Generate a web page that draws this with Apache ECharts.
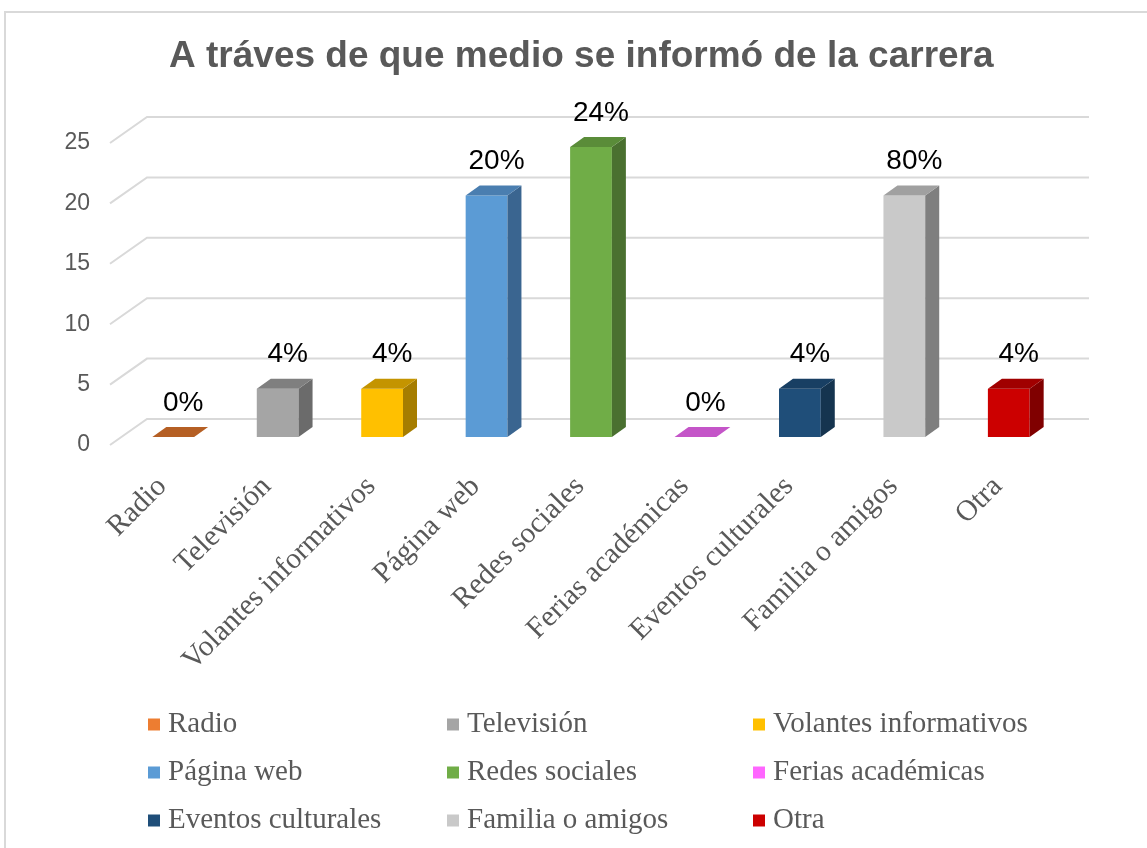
<!DOCTYPE html>
<html>
<head>
<meta charset="utf-8">
<script src="https://cdn.jsdelivr.net/npm/echarts@6/dist/echarts.min.js"></script>
<style>
    html, body { margin: 0; padding: 0; background: #fff; }
    #chart { width: 1147px; height: 848px; }
</style>
</head>
<body>
<div id="chart"></div>
<script>
    // datos
    const categorias = ['Radio', 'Televisión', 'Volantes informativos', 'Página web', 'Redes sociales',
        'Ferias académicas', 'Eventos culturales', 'Familia o amigos', 'Otra']
    const valores = [0, 4, 4, 20, 24, 0, 4, 20, 4]
    const etiquetas = ['0%', '4%', '4%', '20%', '24%', '0%', '4%', '80%', '4%']
    const ejeY = [0, 5, 10, 15, 20, 25]

    // colores: frente, cara superior, lateral
    const colores = [
        ['#ED7D31', '#B55F24', '#9a4f1d'],
        ['#A5A5A5', '#7F7F7F', '#6B6B6B'],
        ['#FFC000', '#C49400', '#a67d00'],
        ['#5B9BD5', '#4A7EB0', '#3A6590'],
        ['#70AD47', '#5A8C39', '#4A7030'],
        ['#FF66FF', '#C455C8', '#a040a8'],
        ['#1F4E79', '#183F63', '#15344F'],
        ['#C9C9C9', '#A0A0A0', '#7F7F7F'],
        ['#CC0000', '#A00000', '#800000']
    ]

    const chart = echarts.init(document.getElementById('chart'))

    const PROF_X = 37, PROF_Y = -26   // profundidad total del piso
    const FR_X = 11, FR_Y = -8        // frente de la barra
    const BD_X = 14, BD_Y = -10       // profundidad de la barra

    function barra3d(i) {
        return (params, api) => {
            const base = api.coord([api.value(0), 0])
            const tope = api.coord([api.value(0), api.value(1)])
            const bw = api.size([1, 0])[0] * 0.4
            const xl = base[0] - bw / 2 + FR_X, xr = base[0] + bw / 2 + FR_X
            const yb = base[1] + FR_Y, yt = tope[1] + FR_Y
            const c = colores[i]
            return {
                type: 'group',
                children: [
                    { type: 'polygon', shape: { points: [[xl, yt], [xr, yt], [xr, yb], [xl, yb]] }, style: { fill: c[0] } },
                    { type: 'polygon', shape: { points: [[xr, yt], [xr + BD_X, yt + BD_Y], [xr + BD_X, yb + BD_Y], [xr, yb]] }, style: { fill: c[2] } },
                    { type: 'polygon', shape: { points: [[xl, yt], [xl + BD_X, yt + BD_Y], [xr + BD_X, yt + BD_Y], [xr, yt]] }, style: { fill: c[1] } },
                    {
                        type: 'text',
                        x: base[0] + FR_X + 10,
                        y: yt + BD_Y - 24,
                        style: {
                            text: etiquetas[i],
                            fill: '#000',
                            font: '28px "Liberation Sans", Arial, sans-serif',
                            align: 'center',
                            verticalAlign: 'middle'
                        }
                    }
                ]
            }
        }
    }

    const series = [{
        name: 'pared',
        type: 'custom',
        z: 1,
        silent: true,
        data: ejeY.map(v => [0, v]),
        renderItem: (params, api) => {
            const cs = params.coordSys
            const y = api.coord([0, api.value(1)])[1]
            return {
                type: 'polyline',
                shape: { points: [[cs.x, y], [cs.x + PROF_X, y + PROF_Y], [cs.x + cs.width + PROF_X + 2, y + PROF_Y]] },
                style: { stroke: '#d9d9d9', lineWidth: 2, fill: null }
            }
        }
    }]
    categorias.forEach((nombre, i) => {
        series.push({
            name: nombre,
            type: 'custom',
            z: 2,
            itemStyle: { color: colores[i][0] },
            data: [[i, valores[i]]],
            renderItem: barra3d(i)
        })
    })

    const leyenda = (cols, left) => ({
        orient: 'vertical',
        left: left,
        top: 710,
        padding: 0,
        itemWidth: 12,
        itemHeight: 12,
        itemGap: 19,
        icon: 'rect',
        data: cols,
        textStyle: {
            fontFamily: '"Liberation Serif", "Times New Roman", serif',
            fontSize: 29,
            lineHeight: 29,
            color: '#595959',
            padding: [0, 0, 0, 3]
        }
    })

    chart.setOption({
        animation: false,
        title: {
            text: 'A tráves de que medio se informó de la carrera',
            left: 169,
            top: 38,
            padding: 0,
            textStyle: {
                fontFamily: '"Liberation Sans", Arial, sans-serif',
                fontSize: 37,
                fontWeight: 'bold',
                color: '#595959'
            }
        },
        graphic: [{
            type: 'rect',
            shape: { x: 5, y: 12, width: 1200, height: 900 },
            style: { fill: null, stroke: '#d9d9d9', lineWidth: 2 },
            silent: true
        }],
        legend: [
            leyenda([categorias[0], categorias[3], categorias[6]], 148),
            leyenda([categorias[1], categorias[4], categorias[7]], 447),
            leyenda([categorias[2], categorias[5], categorias[8]], 753)
        ],
        grid: { left: 110, right: 97, top: 143, bottom: 403, containLabel: false },
        xAxis: {
            type: 'category',
            data: categorias,
            axisLine: { show: false },
            axisTick: { show: false },
            axisLabel: {
                interval: 0,
                rotate: 45,
                margin: 37,
                fontFamily: '"Liberation Serif", "Times New Roman", serif',
                fontSize: 29.5,
                color: '#595959'
            }
        },
        yAxis: {
            type: 'value',
            min: 0,
            max: 25,
            interval: 5,
            axisLine: { show: false },
            axisTick: { show: false },
            splitLine: { show: false },
            axisLabel: {
                margin: 20,
                fontFamily: '"Liberation Sans", Arial, sans-serif',
                fontSize: 23,
                color: '#595959'
            }
        },
        series: series
    })
</script>
</body>
</html>
